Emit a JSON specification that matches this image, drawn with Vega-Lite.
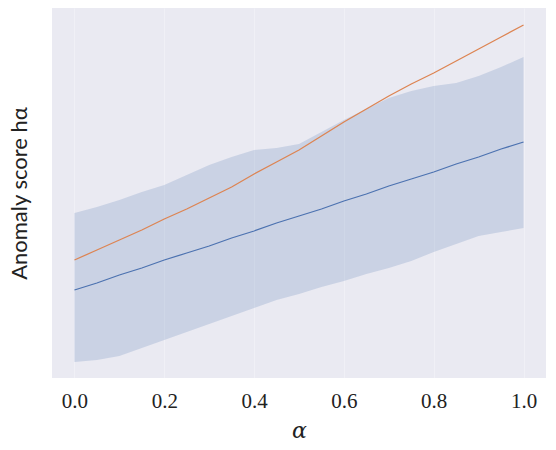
{
  "$schema": "https://vega.github.io/schema/vega-lite/v6.json",
  "width": 494,
  "height": 370,
  "autosize": {"type": "none"},
  "padding": {"left": 52, "top": 8, "right": 10, "bottom": 72},
  "background": "white",
  "config": {
    "view": {"fill": "#EAEAF2", "stroke": null},
    "axis": {"domain": false, "ticks": false}
  },
  "data": {
    "values": [
      {"alpha": 0.00, "lo": 0.16, "hi": 1.65, "mean": 0.88, "other": 1.18},
      {"alpha": 0.05, "lo": 0.18, "hi": 1.71, "mean": 0.95, "other": 1.28},
      {"alpha": 0.10, "lo": 0.22, "hi": 1.78, "mean": 1.03, "other": 1.38},
      {"alpha": 0.15, "lo": 0.30, "hi": 1.86, "mean": 1.10, "other": 1.48},
      {"alpha": 0.20, "lo": 0.38, "hi": 1.93, "mean": 1.18, "other": 1.59},
      {"alpha": 0.25, "lo": 0.46, "hi": 2.03, "mean": 1.25, "other": 1.69},
      {"alpha": 0.30, "lo": 0.54, "hi": 2.13, "mean": 1.32, "other": 1.80},
      {"alpha": 0.35, "lo": 0.62, "hi": 2.21, "mean": 1.40, "other": 1.91},
      {"alpha": 0.40, "lo": 0.70, "hi": 2.28, "mean": 1.47, "other": 2.04},
      {"alpha": 0.45, "lo": 0.78, "hi": 2.30, "mean": 1.55, "other": 2.16},
      {"alpha": 0.50, "lo": 0.84, "hi": 2.34, "mean": 1.62, "other": 2.28},
      {"alpha": 0.55, "lo": 0.91, "hi": 2.46, "mean": 1.69, "other": 2.42},
      {"alpha": 0.60, "lo": 0.97, "hi": 2.58, "mean": 1.77, "other": 2.56},
      {"alpha": 0.65, "lo": 1.04, "hi": 2.69, "mean": 1.84, "other": 2.69},
      {"alpha": 0.70, "lo": 1.10, "hi": 2.80, "mean": 1.92, "other": 2.82},
      {"alpha": 0.75, "lo": 1.17, "hi": 2.87, "mean": 1.99, "other": 2.94},
      {"alpha": 0.80, "lo": 1.26, "hi": 2.92, "mean": 2.06, "other": 3.05},
      {"alpha": 0.85, "lo": 1.34, "hi": 2.95, "mean": 2.14, "other": 3.17},
      {"alpha": 0.90, "lo": 1.42, "hi": 3.02, "mean": 2.21, "other": 3.29},
      {"alpha": 0.95, "lo": 1.46, "hi": 3.11, "mean": 2.29, "other": 3.41},
      {"alpha": 1.00, "lo": 1.50, "hi": 3.21, "mean": 2.36, "other": 3.53}
    ]
  },
  "encoding": {
    "x": {
      "field": "alpha",
      "type": "quantitative",
      "scale": {"domain": [-0.05, 1.05], "nice": false, "zero": false},
      "axis": {
        "values": [0, 0.2, 0.4, 0.6, 0.8, 1.0],
        "format": ".1f",
        "title": "α",
        "titleFont": "DejaVu Serif",
        "titleFontStyle": "italic",
        "titleFontWeight": "normal",
        "titleFontSize": 22,
        "titleColor": "#222222",
        "titlePadding": 9,
        "labelFont": "Liberation Serif",
        "labelFontSize": 21,
        "labelColor": "#222222",
        "labelPadding": 12,
        "grid": true,
        "gridColor": "white",
        "gridOpacity": 0.3,
        "gridWidth": 1
      }
    }
  },
  "layer": [
    {
      "mark": {"type": "area", "color": "#4C72B0", "opacity": 0.2},
      "encoding": {
        "y": {
          "field": "lo",
          "type": "quantitative",
          "scale": {"domain": [0, 3.7], "nice": false, "zero": false},
          "axis": {
            "title": "Anomaly score hα",
            "labels": false,
            "grid": false,
            "titleFont": "Lato",
            "titleFontWeight": "normal",
            "titleFontSize": 22,
            "titleColor": "#222222",
            "titlePadding": 21
          }
        },
        "y2": {"field": "hi"}
      }
    },
    {
      "mark": {"type": "line", "color": "#DD8452", "strokeWidth": 1.3},
      "encoding": {"y": {"field": "other", "type": "quantitative"}}
    },
    {
      "mark": {"type": "line", "color": "#4C72B0", "strokeWidth": 1.3},
      "encoding": {"y": {"field": "mean", "type": "quantitative"}}
    }
  ]
}
